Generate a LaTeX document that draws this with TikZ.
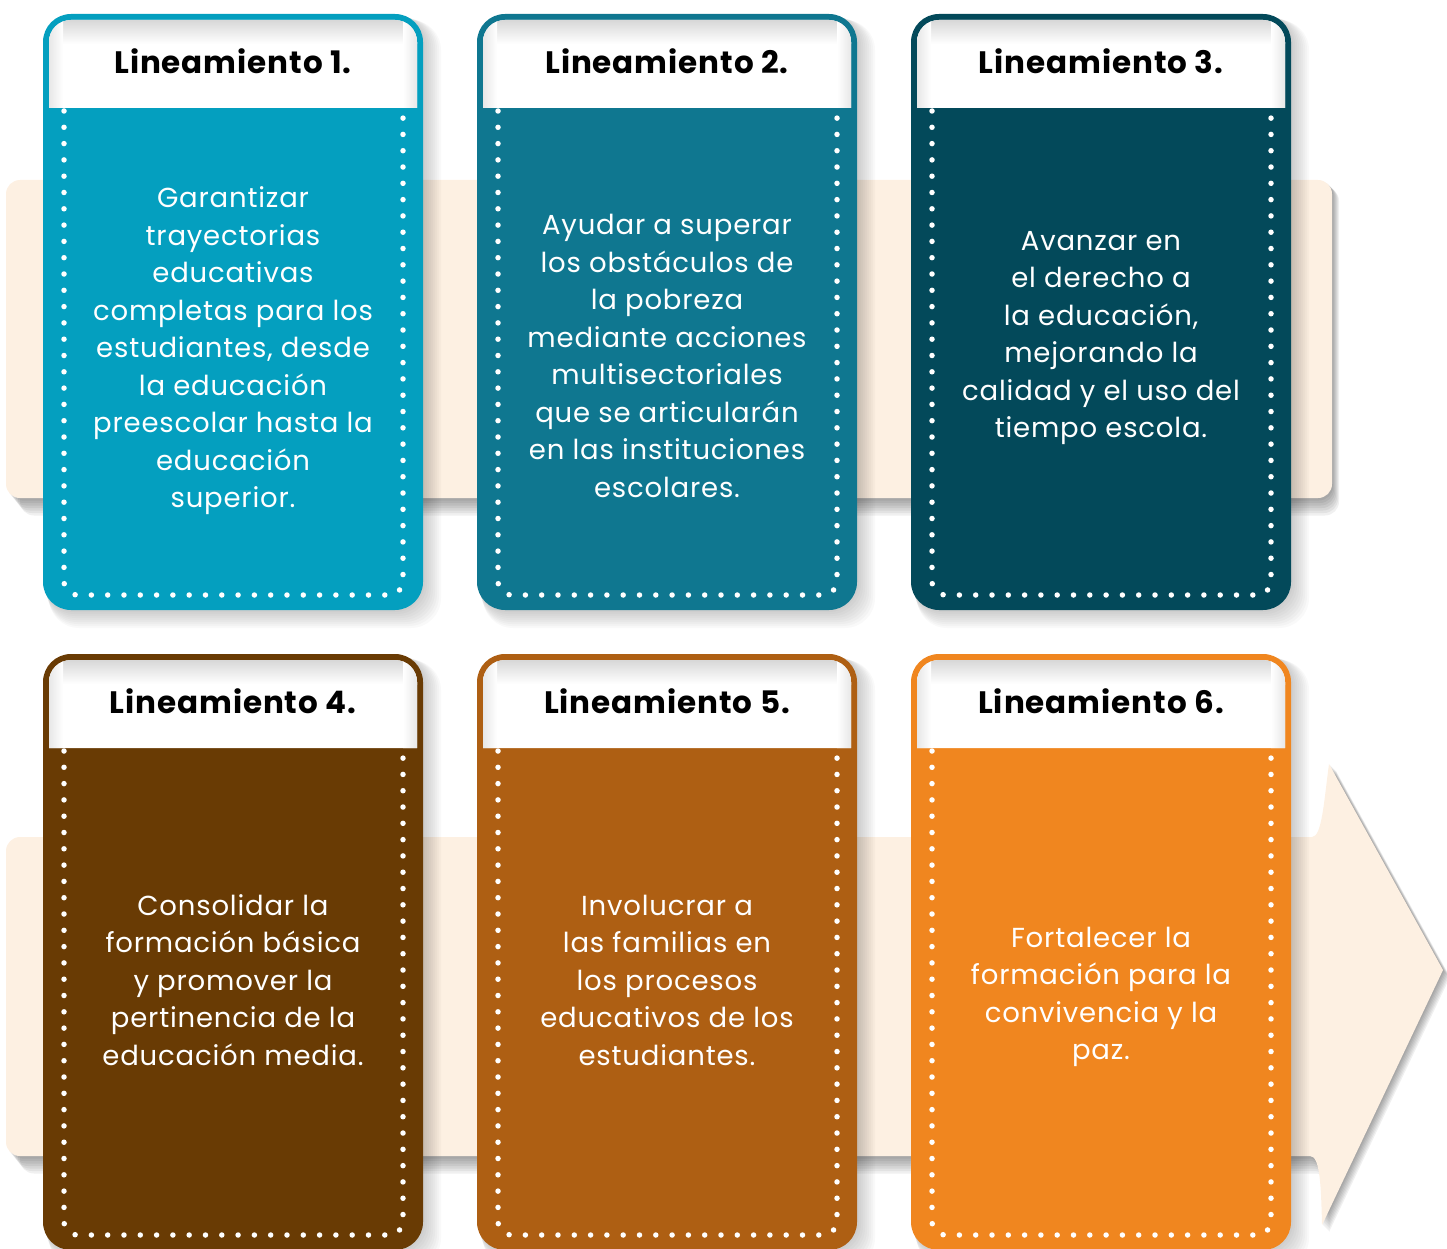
\documentclass[tikz,border=0pt]{standalone}
\usepackage{fontspec}
\setmainfont{Poppins}[LetterSpace=3]
\definecolor{bandcol}{HTML}{FDF0E2}
\definecolor{cardA}{HTML}{049FBF}
\definecolor{cardB}{HTML}{0F7790}
\definecolor{cardC}{HTML}{03495A}
\definecolor{cardD}{HTML}{693B04}
\definecolor{cardE}{HTML}{AE5F13}
\definecolor{cardF}{HTML}{F0861F}

% one card: x, y, colour, number, text y, text
\newcommand{\lcard}[6]{%
  \foreach \s in {2,4,...,18}
    \fill[black,opacity=0.022,rounded corners=30pt] (#1+\s/3,#2+\s/3) rectangle (#1+380+\s,#2+596+\s);
  \fill[#3,rounded corners=28pt] (#1,#2) rectangle (#1+380,#2+596);
  \begin{scope}
    \clip (#1+6,#2+94) [rounded corners=22pt]-- (#1+6,#2+6) -- (#1+374,#2+6) [sharp corners]-- (#1+374,#2+94) -- cycle;
    \fill[white] (#1,#2) rectangle (#1+380,#2+100);
    \shade[top color=black!16,bottom color=white] (#1,#2+5) rectangle (#1+380,#2+30);
    \shade[left color=black!10,right color=white] (#1+5,#2) rectangle (#1+20,#2+94);
    \shade[left color=white,right color=black!10] (#1+360,#2) rectangle (#1+375,#2+94);
  \end{scope}
  \draw[dotline] (#1+21,#2+97) -- (#1+21,#2+581) -- (#1+360,#2+581) -- (#1+360,#2+97);
  \node[titletext] (t#4) at (#1+190,#2+47) {Lineamiento #4.};
  \node[bodytext] (l#4) at (#1+190,#2+#5) {#6};
}

\begin{document}
\begin{tikzpicture}[x=1pt,y=-1pt,
  bandfill/.style={fill=bandcol},
  dotline/.style={white,line width=5.5pt,line cap=round,dash pattern=on 0pt off 16.3pt,rounded corners=14pt},
  titletext/.style={font=\fontsize{31}{36}\selectfont\bfseries,text=black},
  bodytext/.style={font=\fontsize{27.5}{37.5}\selectfont,text=white,align=center}]
  \useasboundingbox (0,0) rectangle (1447,1249);

  % upper band
  \foreach \s in {1,...,7}
    \fill[black,opacity=0.06,rounded corners=14pt] (6+2*\s,180+\s) rectangle (1332+\s,498+2.5*\s);
  \fill[bandfill,rounded corners=14pt] (6,180) rectangle (1332,498);

  % lower band with arrow head
  \foreach \s in {1,...,7}
    \fill[black,opacity=0.06] (6+2*\s,1000) [rounded corners=14pt]-- (6+2*\s,837+\s) [sharp corners]-- (1312+\s,837+\s)
      .. controls (1322+\s,837+\s) and (1324+\s,800+\s) .. (1329+\s,764+\s) -- (1443+\s,970+\s) -- (1322+\s,1225+\s)
      .. controls (1321+\s,1185+\s) and (1320+\s,1156+2.5*\s) .. (1310+\s,1156+2.5*\s) [rounded corners=14pt]-- (6+2*\s,1156+2.5*\s) [sharp corners]-- cycle;
  \fill[bandfill] (6,1000) [rounded corners=14pt]-- (6,837) [sharp corners]-- (1312,837)
    .. controls (1322,837) and (1324,800) .. (1329,764) -- (1443,970) -- (1322,1225)
    .. controls (1321,1185) and (1320,1156) .. (1310,1156) [rounded corners=14pt]-- (6,1156) [sharp corners]-- cycle;

  % cards
  \lcard{43}{14}{cardA}{1}{337}{Garantizar\\trayectorias\\educativas\\completas para los\\estudiantes, desde\\la educación\\preescolar hasta la\\educación\\superior.}
  \lcard{477}{14}{cardB}{2}{342}{Ayudar a superar\\los obstáculos de\\la pobreza\\mediante acciones\\multisectoriales\\que se articularán\\en las instituciones\\escolares.}
  \lcard{911}{14}{cardC}{3}{324}{Avanzar en\\el derecho a\\la educación,\\mejorando la\\calidad y el uso del\\tiempo escola.}
  \lcard{43}{654}{cardD}{4}{326}{Consolidar la\\formación básica\\y promover la\\pertinencia de la\\educación media.}
  \lcard{477}{654}{cardE}{5}{326}{Involucrar a\\las familias en\\los procesos\\educativos de los\\estudiantes.}
  \lcard{911}{654}{cardF}{6}{343}{Fortalecer la\\formación para la\\convivencia y la\\paz.}
\end{tikzpicture}
\end{document}
